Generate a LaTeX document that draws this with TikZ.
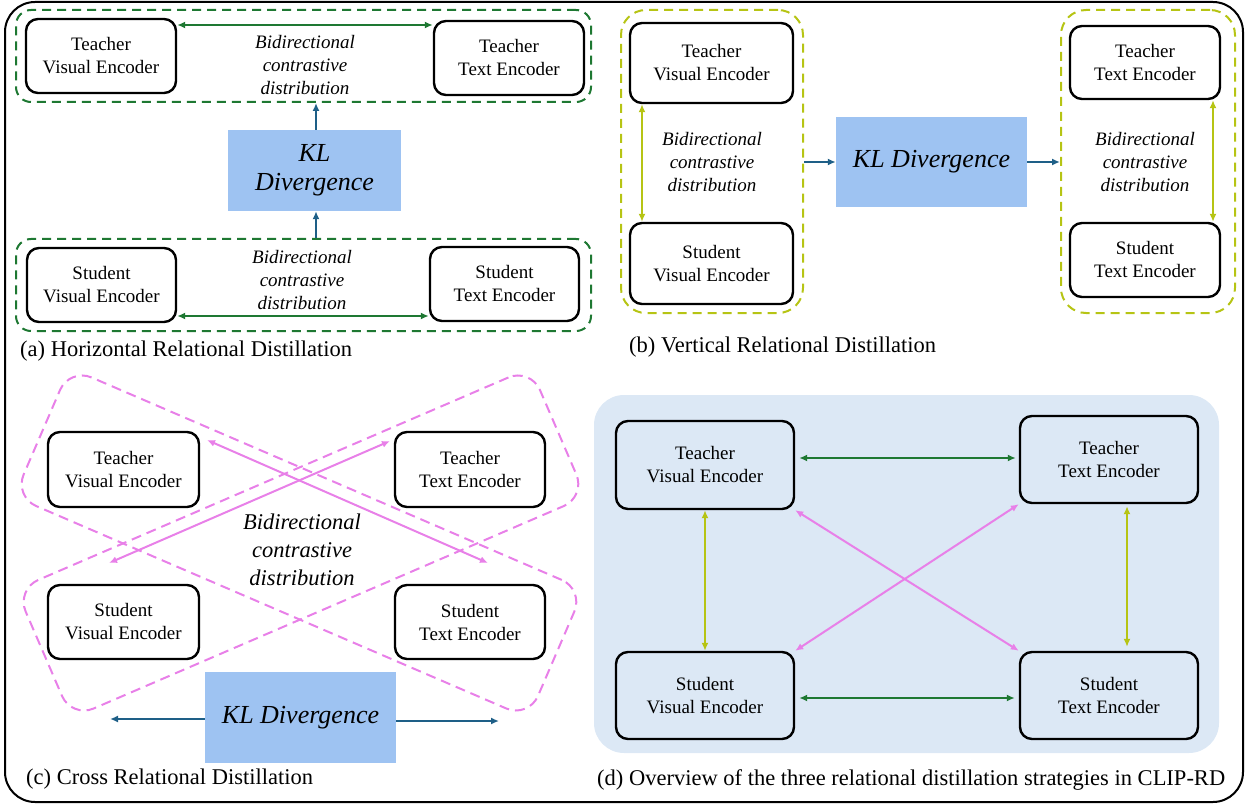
\documentclass[tikz,border=0pt]{standalone}
\usepackage{fontspec}
\setmainfont{Liberation Serif}
\usetikzlibrary{arrows.meta}
\definecolor{dgreen}{RGB}{30,120,50}
\definecolor{ygreen}{RGB}{182,196,20}
\definecolor{pinkv}{RGB}{232,128,232}
\definecolor{tealb}{RGB}{30,95,135}
\definecolor{klblue}{RGB}{158,195,242}
\definecolor{bgblue}{RGB}{220,232,245}
\begin{document}
\begin{tikzpicture}[x=1pt,y=-1pt,
  enc/.style={draw=black, line width=2.4pt, rounded corners=12pt, align=center,
    font=\fontsize{19}{23}\selectfont, inner sep=0pt},
  klbox/.style={fill=klblue, draw=none, align=center, inner sep=0pt,
    font=\itshape\fontsize{26}{29}\selectfont},
  bidir/.style={align=center, font=\itshape\fontsize{19}{23}\selectfont},
  bidirbig/.style={align=center, font=\itshape\fontsize{22.5}{28}\selectfont},
  caption/.style={anchor=west, inner sep=0pt, font=\fontsize{22.5}{27}\selectfont},
  gbox/.style={draw=dgreen, line width=2pt, dash pattern=on 9pt off 6pt, rounded corners=15pt},
  ybox/.style={draw=ygreen, line width=2pt, dash pattern=on 9pt off 6pt, rounded corners=25pt},
  pband/.style={draw=pinkv, line width=2pt, dash pattern=on 10pt off 6pt, rounded corners=24pt,
    minimum width=560pt, minimum height=140pt},
  garr/.style={draw=dgreen, line width=2pt, {Latex[length=8pt,width=7pt]}-{Latex[length=8pt,width=7pt]}},
  yarr/.style={draw=ygreen, line width=2pt, {Latex[length=8pt,width=7pt]}-{Latex[length=8pt,width=7pt]}},
  parr/.style={draw=pinkv, line width=2pt, {Latex[length=8pt,width=7pt]}-{Latex[length=8pt,width=7pt]}},
  tarr/.style={draw=tealb, line width=2pt, -{Latex[length=8pt,width=7pt]}}
]
\useasboundingbox (0,0) rectangle (1248,805);
\draw[line width=2pt, rounded corners=30pt] (5,2) rectangle (1243,802);

% ---------------- Panel (a)
\node[gbox, minimum width=575pt, minimum height=92pt] (aTop) at (303.5,56) {};
\node[gbox, minimum width=575pt, minimum height=92pt] (aBot) at (303.5,285) {};
\node[enc, minimum width=150pt, minimum height=74pt] (aTV) at (101,56) {Teacher\\Visual Encoder};
\node[enc, minimum width=150pt, minimum height=74pt] (aTT) at (509,58) {Teacher\\Text Encoder};
\node[enc, minimum width=149pt, minimum height=74pt] (aSV) at (101.5,285) {Student\\Visual Encoder};
\node[enc, minimum width=149pt, minimum height=74pt] (aST) at (504.5,284) {Student\\Text Encoder};
\node[klbox, minimum width=173pt, minimum height=81pt] (aKL) at (314.5,170.5) {KL\\Divergence};
\node[bidir] (aB1) at (305,65) {Bidirectional\\contrastive\\distribution};
\node[bidir] (aB2) at (302,280) {Bidirectional\\contrastive\\distribution};
\coordinate (ay1) at (0,25);
\coordinate (ay2) at (0,316);
\coordinate (ax) at (316,0);
\draw[garr] (aTV.east |- ay1) -- (aTT.west |- ay1);
\draw[garr] (aSV.east |- ay2) -- (aST.west |- ay2);
\draw[tarr] (ax |- aKL.north) -- (ax |- aTop.south);
\draw[tarr] (ax |- aBot.north) -- (ax |- aKL.south);
\node[caption] (capA) at (20,351) {(a) Horizontal Relational Distillation};

% ---------------- Panel (b)
\node[ybox, minimum width=182pt, minimum height=303pt] (bL) at (712,161.5) {};
\node[ybox, minimum width=174pt, minimum height=303pt] (bR) at (1148,161.5) {};
\node[enc, minimum width=163pt, minimum height=80pt] (bTV) at (711.5,63) {Teacher\\Visual Encoder};
\node[enc, minimum width=163pt, minimum height=81pt] (bSV) at (711.5,263.5) {Student\\Visual Encoder};
\node[enc, minimum width=150pt, minimum height=73pt] (bTT) at (1145,62.5) {Teacher\\Text Encoder};
\node[enc, minimum width=150pt, minimum height=74pt] (bST) at (1145,260) {Student\\Text Encoder};
\node[klbox, minimum width=191pt, minimum height=90pt] (bKL) at (931.5,162) {KL Divergence};
\node[bidir] (bB1) at (712,162) {Bidirectional\\contrastive\\distribution};
\node[bidir] (bB2) at (1145,162) {Bidirectional\\contrastive\\distribution};
\coordinate (bx1) at (642,0);
\coordinate (bx2) at (1213,0);
\draw[yarr] (bx1 |- bTV.south) -- (bx1 |- bSV.north);
\draw[yarr] (bx2 |- bTT.south) -- (bx2 |- bST.north);
\draw[tarr] (bL.east |- bKL.west) -- (bKL.west);
\draw[tarr] (bKL.east) -- (bR.west |- bKL.east);
\node[caption] (capB) at (629,347) {(b) Vertical Relational Distillation};

% ---------------- Panel (c)
\node[pband, rotate=-23.3] (cBand1) at (299,543) {};
\node[pband, rotate=23.3] (cBand2) at (301,543) {};
\node[enc, minimum width=151pt, minimum height=75pt] (cTV) at (123.5,469.5) {Teacher\\Visual Encoder};
\node[enc, minimum width=150pt, minimum height=75pt] (cTT) at (470,469.5) {Teacher\\Text Encoder};
\node[enc, minimum width=151pt, minimum height=74pt] (cSV) at (123.5,622) {Student\\Visual Encoder};
\node[enc, minimum width=150pt, minimum height=74pt] (cST) at (470,622) {Student\\Text Encoder};
\node[klbox, minimum width=191pt, minimum height=91pt] (cKL) at (300.5,717.5) {KL Divergence};
\node[bidirbig] (cB) at (302,550) {Bidirectional\\contrastive\\distribution};
\coordinate (c1) at (207,440);
\coordinate (c2) at (488,563);
\coordinate (c3) at (390,441);
\coordinate (c4) at (109,563);
\draw[parr] (c1) -- (c2);
\draw[parr] (c3) -- (c4);
\coordinate (cL) at (110,719);
\coordinate (cR) at (499,721);
\draw[tarr] (cKL.west |- cL) -- (cL);
\draw[tarr] (cKL.east |- cR) -- (cR);
\node[caption] (capC) at (26,779) {(c) Cross Relational Distillation};

% ---------------- Panel (d)
\fill[bgblue, rounded corners=30pt] (594,395) rectangle (1219,753);
\node[enc, minimum width=178pt, minimum height=88pt] (dTV) at (705,465) {Teacher\\Visual Encoder};
\node[enc, minimum width=178pt, minimum height=87pt] (dTT) at (1109,459.5) {Teacher\\Text Encoder};
\node[enc, minimum width=178pt, minimum height=87pt] (dSV) at (705,695.5) {Student\\Visual Encoder};
\node[enc, minimum width=178pt, minimum height=87pt] (dST) at (1109,695.5) {Student\\Text Encoder};
\coordinate (dy1) at (0,458);
\coordinate (dy2) at (0,698);
\coordinate (dx2) at (1127,0);
\draw[garr, shorten <=4pt, shorten >=3pt] (dTV.east |- dy1) -- (dTT.west |- dy1);
\draw[garr, shorten <=4pt, shorten >=4pt] (dSV.east |- dy2) -- (dST.west |- dy2);
\draw[yarr] (dTV.south) -- (dSV.north);
\draw[yarr, shorten <=2pt, shorten >=4pt] (dx2 |- dTT.south) -- (dx2 |- dST.north);
\draw[parr] (dTV.south east) -- (dST.north west);
\draw[parr] (dTT.south west) -- (dSV.north east);
\node[caption] (capD) at (597,780) {(d) Overview of the three relational distillation strategies in CLIP-RD};
\end{tikzpicture}
\end{document}
